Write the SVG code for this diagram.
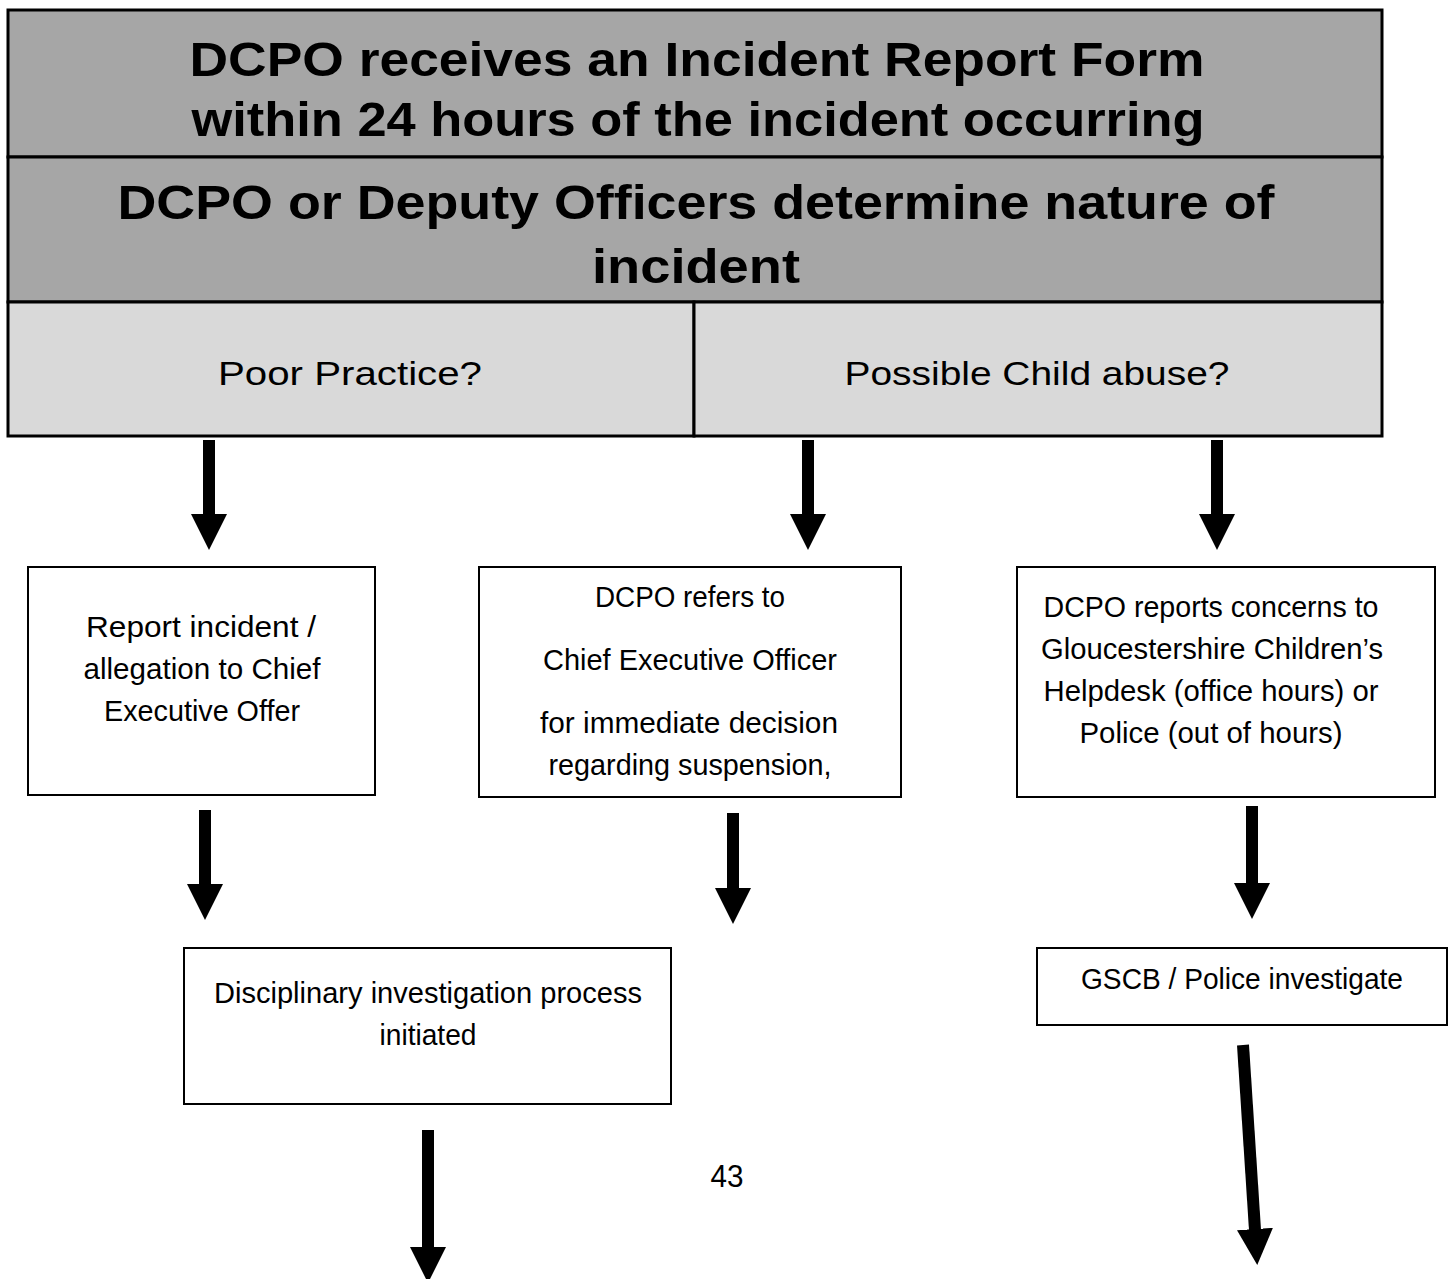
<svg xmlns="http://www.w3.org/2000/svg" width="1453" height="1279" viewBox="0 0 1453 1279">
<style>
.hdr{font-family:"Liberation Sans",Arial,sans-serif;font-weight:bold;font-size:48px;fill:#000;text-anchor:middle}
.q{font-family:"Liberation Sans",Arial,sans-serif;font-size:34px;fill:#000;text-anchor:middle}
.t{font-family:"Liberation Sans",Arial,sans-serif;font-size:29px;fill:#000;text-anchor:middle}
.box{fill:#fff;stroke:#000;stroke-width:2}
.dark{fill:#a6a6a6;stroke:#000;stroke-width:3}
.light{fill:#d9d9d9;stroke:#000;stroke-width:3}
.arr{stroke:#000;stroke-width:12;fill:none;marker-end:url(#ah)}
</style>
<defs>
<marker id="ah" markerUnits="userSpaceOnUse" viewBox="0 0 36 36" markerWidth="36" markerHeight="36" refX="1" refY="18" orient="auto">
<path d="M0,0 L36,18 L0,36 z" fill="#000"/>
</marker>
</defs>
<rect width="1453" height="1279" fill="#fff"/>
<g id="header">
<rect class="dark" x="8" y="10" width="1374" height="147"/>
<text class="hdr" x="697" y="76" textLength="1015" lengthAdjust="spacingAndGlyphs">DCPO receives an Incident Report Form</text>
<text class="hdr" x="698" y="136" textLength="1013" lengthAdjust="spacingAndGlyphs">within 24 hours of the incident occurring</text>
</g>
<g id="nature">
<rect class="dark" x="8" y="157" width="1374" height="145"/>
<text class="hdr" x="696" y="219" textLength="1157" lengthAdjust="spacingAndGlyphs">DCPO or Deputy Officers determine nature of</text>
<text class="hdr" x="696" y="283" textLength="208" lengthAdjust="spacingAndGlyphs">incident</text>
</g>
<g id="poor-practice">
<rect class="light" x="8" y="302" width="686" height="134"/>
<text class="q" x="350" y="385" textLength="264" lengthAdjust="spacingAndGlyphs">Poor Practice?</text>
</g>
<g id="child-abuse">
<rect class="light" x="694" y="302" width="688" height="134"/>
<text class="q" x="1037" y="385" textLength="385" lengthAdjust="spacingAndGlyphs">Possible Child abuse?</text>
</g>
<g id="connectors">
<line class="arr" x1="209" y1="440" x2="209" y2="515"/>
<line class="arr" x1="808" y1="440" x2="808" y2="515"/>
<line class="arr" x1="1217" y1="440" x2="1217" y2="515"/>
<line class="arr" x1="205" y1="810" x2="205" y2="885"/>
<line class="arr" x1="733" y1="813" x2="733" y2="889"/>
<line class="arr" x1="1252" y1="806" x2="1252" y2="884"/>
<line class="arr" x1="428" y1="1130" x2="428" y2="1248"/>
<line class="arr" x1="1243" y1="1045" x2="1255" y2="1230"/>
</g>
<g id="report-ceo">
<rect class="box" x="28" y="567" width="347" height="228"/>
<text class="t" x="201" y="637" textLength="230" lengthAdjust="spacingAndGlyphs">Report incident /</text>
<text class="t" x="202" y="679" textLength="237" lengthAdjust="spacingAndGlyphs">allegation to Chief</text>
<text class="t" x="202" y="721" textLength="196" lengthAdjust="spacingAndGlyphs">Executive Offer</text>
</g>
<g id="refers-ceo">
<rect class="box" x="479" y="567" width="422" height="230"/>
<text class="t" x="690" y="607" textLength="190" lengthAdjust="spacingAndGlyphs">DCPO refers to</text>
<text class="t" x="690" y="670" textLength="294" lengthAdjust="spacingAndGlyphs">Chief Executive Officer</text>
<text class="t" x="689" y="733" textLength="298" lengthAdjust="spacingAndGlyphs">for immediate decision</text>
<text class="t" x="690" y="775" textLength="283" lengthAdjust="spacingAndGlyphs">regarding suspension,</text>
</g>
<g id="reports-concerns">
<rect class="box" x="1017" y="567" width="418" height="230"/>
<text class="t" x="1211" y="617" textLength="335" lengthAdjust="spacingAndGlyphs">DCPO reports concerns to</text>
<text class="t" x="1212" y="659" textLength="342" lengthAdjust="spacingAndGlyphs">Gloucestershire Children’s</text>
<text class="t" x="1211" y="701" textLength="335" lengthAdjust="spacingAndGlyphs">Helpdesk (office hours) or</text>
<text class="t" x="1211" y="743" textLength="263" lengthAdjust="spacingAndGlyphs">Police (out of hours)</text>
</g>
<g id="disciplinary">
<rect class="box" x="184" y="948" width="487" height="156"/>
<text class="t" x="428" y="1003" textLength="428" lengthAdjust="spacingAndGlyphs">Disciplinary investigation process</text>
<text class="t" x="428" y="1045" textLength="97" lengthAdjust="spacingAndGlyphs">initiated</text>
</g>
<g id="gscb">
<rect class="box" x="1037" y="948" width="410" height="77"/>
<text class="t" x="1242" y="989" textLength="322" lengthAdjust="spacingAndGlyphs">GSCB / Police investigate</text>
</g>
<text x="727" y="1187" font-family="Liberation Sans, Arial, sans-serif" font-size="32" text-anchor="middle" fill="#000" textLength="33" lengthAdjust="spacingAndGlyphs">43</text>
</svg>
